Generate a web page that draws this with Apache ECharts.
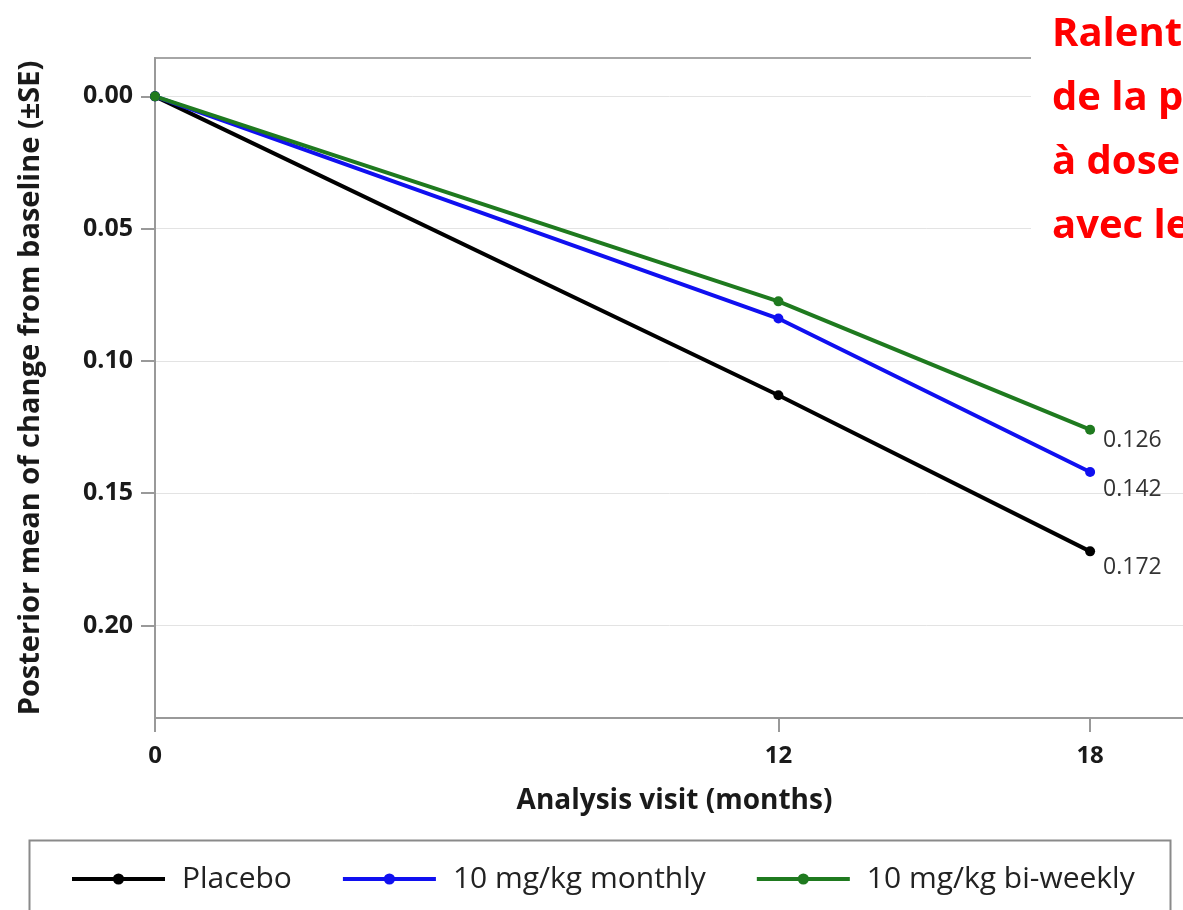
<!DOCTYPE html>
<html>
<head>
<meta charset="utf-8">
<script src="https://cdn.jsdelivr.net/npm/echarts@6/dist/echarts.min.js"></script>
<style>
  html, body { margin: 0; padding: 0; background: #fff; }
  #chart { width: 1183px; height: 910px; }
</style>
</head>
<body>
<div id="chart"></div>
<script>
// Visit months and posterior mean change from baseline per arm
const months = [0, 12, 18];
const placebo = [0, 0.113, 0.172];
const monthly = [0, 0.084, 0.142];
const biweekly = [0, 0.0775, 0.126];

const seriesNames = ['Placebo', '10 mg/kg monthly', '10 mg/kg bi-weekly'];
const xTicks = [0, 12, 18];
const yTicks = [0, 0.05, 0.10, 0.15, 0.20];
const noteLines = ['Ralentissement', 'de la progression', 'à dose', 'avec le'];

const FONT = '"Open Sans", "Noto Sans", sans-serif';

function pairs(ys) { return months.map((m, i) => [m, ys[i]]); }

function lineSeries(name, ys, color, labelOffset) {
  const last = ys.length - 1;
  return {
    name: name,
    type: 'line',
    data: pairs(ys),
    symbol: 'circle',
    symbolSize: 10,
    lineStyle: { color: color, width: 4 },
    itemStyle: { color: color },
    label: {
      show: true,
      position: 'right',
      offset: labelOffset,
      color: '#333',
      fontFamily: FONT,
      fontSize: 23,
      formatter: p => (p.dataIndex === last ? p.value[1].toFixed(3) : '')
    },
    emphasis: { disabled: true },
    z: 3
  };
}

const chart = echarts.init(document.getElementById('chart'), null, { renderer: 'canvas' });

chart.setOption({
  animation: false,
  backgroundColor: '#fff',
  grid: {
    left: 155, top: 58, width: 1039, bottom: 192,
    outerBoundsMode: 'none',
    show: true, borderColor: '#a6a6a6', borderWidth: 2, backgroundColor: 'transparent'
  },
  xAxis: {
    type: 'value',
    min: 0, max: 20,
    name: 'Analysis visit (months)',
    nameLocation: 'middle',
    nameGap: 69,
    nameTextStyle: { fontFamily: FONT, fontWeight: 'bold', fontSize: 28, color: '#1a1a1a' },
    axisLine: { show: true, onZero: false, lineStyle: { color: '#999', width: 2 } },
    axisTick: { show: true, length: 14, customValues: xTicks, lineStyle: { color: '#999', width: 2 } },
    axisLabel: {
      customValues: xTicks,
      margin: 26,
      fontFamily: FONT, fontWeight: 'bold', fontSize: 24, color: '#1a1a1a'
    },
    splitLine: { show: false }
  },
  yAxis: {
    type: 'value',
    inverse: true,
    min: -0.0145, max: 0.235,
    name: 'Posterior mean of change from baseline (±SE)',
    nameLocation: 'middle',
    nameGap: 110,
    nameRotate: 90,
    nameTextStyle: { fontFamily: FONT, fontWeight: 'bold', fontSize: 29, color: '#1a1a1a' },
    axisLine: { show: true, lineStyle: { color: '#999', width: 2 } },
    axisTick: { show: true, length: 14, customValues: yTicks, lineStyle: { color: '#999', width: 2 } },
    axisLabel: {
      customValues: yTicks,
      margin: 22,
      formatter: v => v.toFixed(2),
      fontFamily: FONT, fontWeight: 'bold', fontSize: 25, color: '#1a1a1a'
    },
    splitLine: { show: true, lineStyle: { color: '#e3e3e3', width: 1 } }
  },
  legend: {
    left: 65, top: 859,
    itemWidth: 93, itemHeight: 14,
    itemGap: 49,
    data: seriesNames,
    lineStyle: { width: 4 },
    textStyle: { fontFamily: FONT, fontSize: 30, color: '#222', padding: [0, 0, 0, 12] },
    selectedMode: false
  },
  series: [
    lineSeries(seriesNames[0], placebo, '#000000', [3, 16]),
    lineSeries(seriesNames[1], monthly, '#1010f0', [3, 17]),
    lineSeries(seriesNames[2], biweekly, '#1f7a1f', [3, 11])
  ],
  graphic: [
    {
      type: 'rect',
      left: 27, top: 838,
      shape: { width: 1141, height: 120 },
      style: { fill: 'none', stroke: '#8a8a8a', lineWidth: 2 },
      z: 10
    },
    {
      type: 'rect',
      left: 1031, top: 0,
      shape: { width: 160, height: 250 },
      style: { fill: '#fff' },
      z: 20
    },
    {
      type: 'text',
      left: 1052, top: 3,
      style: {
        text: noteLines.join('\n'),
        font: 'bold 40px "Open Sans", sans-serif',
        fill: '#ff0000',
        lineHeight: 64
      },
      z: 21
    }
  ]
});
</script>
</body>
</html>
